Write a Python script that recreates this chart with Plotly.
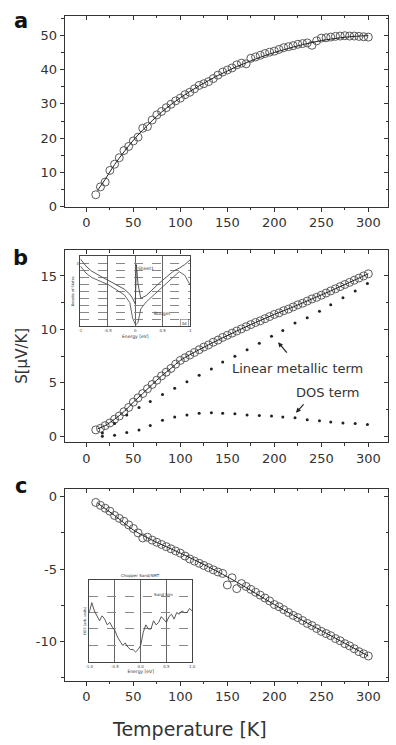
import plotly.graph_objects as go

# ---------------- data ----------------
T = [10, 15, 20, 25, 30, 35, 40, 45, 50, 55, 60, 65, 70, 75, 80, 85, 90, 95, 100,
     105, 110, 115, 120, 125, 130, 135, 140, 145, 150, 155, 160, 165, 170, 175, 180,
     185, 190, 195, 200, 205, 210, 215, 220, 225, 230, 235, 240, 245, 250, 255, 260,
     265, 270, 275, 280, 285, 290, 295, 300]

S_a = [3.5, 5.8, 7.2, 10.6, 12.4, 14.3, 16.4, 17.6, 19.2, 20.3, 22.9, 23.4, 25.3, 26.8,
       27.8, 28.9, 29.9, 30.9, 31.7, 32.7, 33.4, 34.4, 35.4, 35.9, 36.5, 37.4, 38.4,
       39.3, 39.9, 40.5, 41.4, 41.9, 41.7, 43.3, 43.7, 44.2, 44.7, 45.1, 45.4, 45.9,
       46.4, 46.7, 47.0, 47.4, 47.6, 47.8, 47.1, 48.4, 49.2, 49.3, 49.5, 49.7, 49.8,
       49.9, 49.8, 49.8, 49.7, 49.6, 49.5]
fitT_a = [12, 20, 30, 40, 50, 60, 70, 80, 90, 100, 110, 120, 130, 140, 150, 160, 170,
          180, 190, 200, 210, 220, 230, 240, 250, 260, 270, 280, 290, 300]
fitS_a = [4.8, 8.0, 12.3, 16.0, 19.4, 22.4, 25.1, 27.6, 29.8, 31.8, 33.6, 35.3, 36.8,
          38.3, 39.6, 40.9, 42.0, 43.1, 44.1, 45.0, 45.8, 46.6, 47.3, 47.9, 48.5, 48.9,
          49.3, 49.6, 49.8, 49.9]

S_b = [0.6, 0.75, 1.0, 1.25, 1.6, 1.9, 2.3, 2.7, 3.2, 3.6, 4.0, 4.45, 4.85, 5.25, 5.65,
       6.0, 6.35, 6.75, 7.1, 7.35, 7.6, 7.85, 8.1, 8.35, 8.55, 8.8, 9.0, 9.25, 9.45,
       9.65, 9.85, 10.05, 10.25, 10.45, 10.65, 10.8, 11.0, 11.2, 11.4, 11.55, 11.75,
       11.9, 12.1, 12.3, 12.45, 12.65, 12.85, 13.0, 13.2, 13.4, 13.6, 13.8, 14.0, 14.2,
       14.4, 14.6, 14.8, 15.0, 15.2]
fitT_b = [12, 20, 30, 40, 50, 60, 70, 80, 90, 100, 120, 140, 160, 180, 200, 220, 240,
          260, 280, 300]
fitS_b = [0.7, 1.0, 1.6, 2.3, 3.2, 4.0, 4.85, 5.65, 6.35, 7.1, 8.1, 9.0, 9.85, 10.65,
          11.4, 12.1, 12.85, 13.6, 14.4, 15.2]

T_terms = [17, 30, 43, 56, 68, 81, 94, 107, 120, 133, 145, 158, 171, 184, 197, 209,
           222, 235, 248, 260, 273, 286, 299]
linear_term = [0.3, 1.2, 2.0, 2.7, 3.25, 3.9, 4.5, 5.1, 5.7, 6.3, 6.95, 7.5, 8.1, 8.7,
               9.35, 9.9, 10.6, 11.1, 11.7, 12.3, 12.95, 13.6, 14.3]
dos_term = [0.0, 0.1, 0.35, 0.6, 1.0, 1.5, 1.8, 2.0, 2.15, 2.2, 2.15, 2.1, 2.0, 1.95,
            1.9, 1.8, 1.73, 1.55, 1.45, 1.35, 1.25, 1.2, 1.1]

S_c = [-0.4, -0.6, -0.8, -1.0, -1.3, -1.5, -1.7, -1.95, -2.2, -2.5, -2.85, -2.8, -3.0,
       -3.15, -3.3, -3.45, -3.6, -3.75, -3.9, -4.1, -4.3, -4.45, -4.6, -4.75, -4.9,
       -5.05, -5.2, -5.3, -6.1, -5.6, -6.35, -6.0, -6.2, -6.4, -6.6, -6.8, -7.0, -7.2,
       -7.45, -7.6, -7.8, -8.0, -8.2, -8.35, -8.55, -8.75, -8.9, -9.1, -9.3, -9.45,
       -9.6, -9.8, -9.95, -10.15, -10.3, -10.5, -10.7, -10.85, -11.0]
fitT_c = [12, 30, 50, 70, 100, 130, 160, 200, 240, 270, 300]
fitS_c = [-0.45, -1.3, -2.3, -3.0, -3.9, -4.85, -5.9, -7.45, -8.9, -9.95, -11.0]

x_ticks = [0, 50, 100, 150, 200, 250, 300]
ya_ticks = [0, 10, 20, 30, 40, 50]
yb_ticks = [0, 5, 10, 15]
yc_ticks = [0, -5, -10]
yc_ticktext = ["0", "-5", "-10"]

# inset b (density of states)
Eb = [-1.0, -0.9, -0.8, -0.7, -0.6, -0.5, -0.4, -0.3, -0.2, -0.1, -0.05, 0.0, 0.02,
      0.05, 0.1, 0.2, 0.3, 0.4, 0.5, 0.6, 0.7, 0.8, 0.9, 1.0]
dos_upper = [9.6, 8.6, 7.9, 7.4, 7.0, 6.6, 6.2, 5.8, 5.3, 4.6, 4.0, 3.2, 8.8, 6.0, 4.0,
             4.4, 5.2, 5.9, 6.6, 7.3, 7.9, 8.3, 8.8, 9.5]
dos_lower = [8.6, 7.6, 7.0, 6.6, 6.3, 6.0, 5.5, 5.0, 4.5, 3.4, 1.2, 0.3, 0.3, 0.6, 2.5,
             3.5, 4.2, 4.9, 5.7, 6.4, 7.1, 7.8, 7.3, 5.9]

# inset c
Ec = [-1.0, -0.95, -0.9, -0.85, -0.8, -0.75, -0.7, -0.65, -0.6, -0.55, -0.5, -0.45,
      -0.4, -0.35, -0.3, -0.25, -0.2, -0.15, -0.1, -0.05, 0.0, 0.05, 0.1, 0.15, 0.2,
      0.25, 0.3, 0.35, 0.4, 0.45, 0.5, 0.55, 0.6, 0.65, 0.7, 0.75, 0.8, 0.85, 0.9,
      0.95, 1.0]
dos_c = [0.6, 0.72, 0.62, 0.55, 0.5, 0.56, 0.52, 0.45, 0.48, 0.42, 0.38, 0.3, 0.25,
         0.2, 0.23, 0.18, 0.15, 0.15, 0.12, 0.15, 0.2, 0.36, 0.45, 0.4, 0.4, 0.5,
         0.45, 0.48, 0.55, 0.52, 0.48, 0.55, 0.58, 0.52, 0.6, 0.58, 0.62, 0.6, 0.6,
         0.65, 0.62]

# ---------------- figure ----------------
W, H = 396, 745
FONT = "DejaVu Sans"
INK = "#333333"


def px_x(a, b):
    return [a / W, b / W]


def px_y(top, bottom):
    return [1 - bottom / H, 1 - top / H]


main_x = px_x(62, 392)
dom_y = {1: px_y(16, 209), 2: px_y(253, 447), 3: px_y(494, 688)}
x_range = [-23, 321]
y_ranges = {1: [0, 55.7], 2: [-0.55, 17.4], 3: [-12.7, 0.55]}

fig = go.Figure()

circle = dict(symbol="circle-open", size=8, color="#5a5a5a", line=dict(width=1))
fitline = dict(color="#222222", width=1)

# panel a
fig.add_trace(go.Scatter(x=T, y=S_a, mode="markers", marker=circle, xaxis="x", yaxis="y"))
fig.add_trace(go.Scatter(x=fitT_a, y=fitS_a, mode="lines", line=dict(shape="spline", **fitline),
                         xaxis="x", yaxis="y"))
# panel b
fig.add_trace(go.Scatter(x=T, y=S_b, mode="markers", marker=circle, xaxis="x2", yaxis="y2"))
fig.add_trace(go.Scatter(x=fitT_b, y=fitS_b, mode="lines", line=dict(shape="spline", **fitline),
                         xaxis="x2", yaxis="y2"))
fig.add_trace(go.Scatter(x=T_terms, y=linear_term, mode="markers",
                         marker=dict(symbol="circle", size=3, color="#222222"),
                         xaxis="x2", yaxis="y2"))
fig.add_trace(go.Scatter(x=T_terms, y=dos_term, mode="markers",
                         marker=dict(symbol="circle", size=3, color="#222222"),
                         xaxis="x2", yaxis="y2"))
# panel c
fig.add_trace(go.Scatter(x=T, y=S_c, mode="markers", marker=circle, xaxis="x3", yaxis="y3"))
fig.add_trace(go.Scatter(x=fitT_c, y=fitS_c, mode="lines", line=dict(shape="spline", **fitline),
                         xaxis="x3", yaxis="y3"))

# empty traces to make mirror axes (inward ticks on top / right)
for i in (1, 2, 3):
    xs = "" if i == 1 else str(i)
    fig.add_trace(go.Scatter(x=[], y=[], xaxis="x%d" % (i + 3), yaxis="y" + xs, hoverinfo="skip"))
    fig.add_trace(go.Scatter(x=[], y=[], xaxis="x" + xs, yaxis="y%d" % (i + 3), hoverinfo="skip"))

# insets
fig.add_trace(go.Scatter(x=Eb, y=dos_upper, mode="lines", line=dict(color="#444", width=0.9),
                         xaxis="x7", yaxis="y7"))
fig.add_trace(go.Scatter(x=Eb, y=dos_lower, mode="lines", line=dict(color="#555", width=0.9),
                         xaxis="x7", yaxis="y7"))
fig.add_trace(go.Scatter(x=Ec, y=dos_c, mode="lines", line=dict(color="#444", width=0.9),
                         xaxis="x8", yaxis="y8"))

tickfont = dict(family=FONT, size=13, color=INK)
layout = dict(
    width=W, height=H, margin=dict(l=0, r=0, t=0, b=0),
    paper_bgcolor="white", plot_bgcolor="white", showlegend=False,
    font=dict(family=FONT, color=INK),
)

for i in (1, 2, 3):
    xs = "" if i == 1 else str(i)
    ys = xs
    layout["xaxis" + xs] = dict(
        domain=main_x, anchor="y" + ys, range=x_range, tickmode="linear", tick0=0, dtick=50,
        ticks="outside", ticklen=4, tickwidth=1, tickcolor=INK,
        minor=dict(tick0=0, dtick=25, ticks="outside", ticklen=2.5, tickcolor=INK),
        showline=True, mirror=True, linecolor=INK, linewidth=1.2,
        showgrid=False, zeroline=False, tickfont=tickfont,
    )
    ya = dict(
        domain=dom_y[i], anchor="x" + xs, range=y_ranges[i],
        ticks="outside", ticklen=4, tickwidth=1, tickcolor=INK,
        showline=True, mirror=True, linecolor=INK, linewidth=1.2,
        showgrid=False, zeroline=False, tickfont=tickfont,
    )
    if i == 1:
        ya.update(tickmode="array", tickvals=ya_ticks,
                  minor=dict(tick0=0, dtick=5, ticks="outside", ticklen=2.5, tickcolor=INK))
    elif i == 2:
        ya.update(tickmode="array", tickvals=yb_ticks,
                  minor=dict(tick0=0, dtick=2.5, ticks="outside", ticklen=2.5, tickcolor=INK))
    else:
        ya.update(tickmode="array", tickvals=yc_ticks, ticktext=yc_ticktext,
                  minor=dict(tick0=0, dtick=2.5, ticks="outside", ticklen=2.5, tickcolor=INK))
    layout["yaxis" + ys] = ya

    # mirror axes
    layout["xaxis%d" % (i + 3)] = dict(
        overlaying="x" + xs, side="top", anchor="y" + ys, range=x_range,
        tickmode="linear", tick0=0, dtick=50, ticks="inside", ticklen=4, tickcolor=INK,
        minor=dict(tick0=0, dtick=25, ticks="inside", ticklen=2.5, tickcolor=INK),
        showticklabels=False, showline=False, showgrid=False, zeroline=False,
    )
    dt_major = {1: 10, 2: 5, 3: 5}[i]
    dt_minor = {1: 5, 2: 2.5, 3: 2.5}[i]
    layout["yaxis%d" % (i + 3)] = dict(
        overlaying="y" + ys, side="right", anchor="x" + xs, range=y_ranges[i],
        tickmode="linear", tick0=0, dtick=dt_major, ticks="inside", ticklen=4, tickcolor=INK,
        minor=dict(tick0=0, dtick=dt_minor, ticks="inside", ticklen=2.5, tickcolor=INK),
        showticklabels=False, showline=False, showgrid=False, zeroline=False,
    )

tiny = dict(family=FONT, size=4, color="#444")
layout["xaxis7"] = dict(
    domain=px_x(78, 190), anchor="y7", range=[-1, 1], tickmode="array",
    tickvals=[-1, -0.5, 0, 0.5, 1], ticktext=["-1", "-0.5", "0", "0.5", "1"],
    showgrid=True, gridcolor="#666", gridwidth=0.8, zeroline=False,
    showline=True, mirror=True, linecolor="#444", linewidth=0.9, ticks="",
    tickfont=tiny, title=dict(text="Energy [eV]", font=dict(family=FONT, size=4.5), standoff=2),
)
layout["yaxis7"] = dict(
    domain=px_y(259, 330), anchor="x7", range=[0, 10], tickmode="array",
    tickvals=[0, 1, 2, 3, 4, 5, 6, 7, 8, 9, 10], ticktext=[""] * 9 + ["3", ""],
    showgrid=True, gridcolor="#888", gridwidth=0.7, griddash="dash", zeroline=False,
    showline=True, mirror=True, linecolor="#444", linewidth=0.9, ticks="",
    tickfont=tiny, title=dict(text="Density of States", font=dict(family=FONT, size=3.5), standoff=1),
)
layout["xaxis8"] = dict(
    domain=px_x(87, 192), anchor="y8", range=[-1, 1], tickmode="array",
    tickvals=[-1, -0.5, 0, 0.5, 1], ticktext=["-1.0", "-0.5", "0.0", "0.5", "1.0"],
    showgrid=True, gridcolor="#666", gridwidth=0.8, zeroline=False,
    showline=True, mirror=True, linecolor="#444", linewidth=0.9, ticks="",
    tickfont=tiny, title=dict(text="Energy [eV]", font=dict(family=FONT, size=4.5), standoff=2),
)
layout["yaxis8"] = dict(
    domain=px_y(586, 669), anchor="x8", range=[0, 1], tickmode="array",
    tickvals=[0, 0.2, 0.4, 0.6, 0.8, 1.0], ticktext=[""] * 6,
    showgrid=True, gridcolor="#888", gridwidth=0.7, griddash="dash", zeroline=False,
    showline=True, mirror=True, linecolor="#444", linewidth=0.9, ticks="",
    tickfont=tiny, title=dict(text="DOS [arb. units]", font=dict(family=FONT, size=3.5), standoff=1),
)


def ptxt(text, xp, yp, size, angle=0, color=INK):
    return dict(text=text, x=xp / W, y=1 - yp / H, xref="paper", yref="paper",
                xanchor="center", yanchor="middle", showarrow=False, textangle=angle,
                font=dict(family=FONT, size=size, color=color))


annotations = [
    ptxt("<b>a</b>", 17, 21, 21, color="#111"),
    ptxt("<b>b</b>", 17, 261, 21, color="#111"),
    ptxt("<b>c</b>", 17, 491, 21, color="#111"),
    ptxt("S[μV/K]", 18, 360, 15, angle=-90),
    ptxt("Temperature [K]", 189, 737, 19),
    # panel b labels
    ptxt("Linear metallic term", 300, 373, 13),
    dict(text="", x=204, y=8.8, xref="x2", yref="y2", showarrow=True, ax=10, ay=12,
         arrowhead=2, arrowsize=0.8, arrowwidth=1.2, arrowcolor="#222"),
    ptxt("DOS term", 331, 397, 13),
    dict(text="", x=223, y=2.2, xref="x2", yref="y2", showarrow=True, ax=9, ay=-10,
         arrowhead=2, arrowsize=0.8, arrowwidth=1.2, arrowcolor="#222"),
    # inset b labels
    dict(text="Sheet1", x=0.02, y=8.2, xref="x7", yref="y7", xanchor="left", showarrow=False,
         font=dict(family=FONT, size=4.5, color="#333")),
    dict(text="Budget", x=0.3, y=1.8, xref="x7", yref="y7", xanchor="left", showarrow=False,
         font=dict(family=FONT, size=4.5, color="#333")),
    dict(text="3d", x=0.9, y=0.5, xref="x7", yref="y7", showarrow=False,
         font=dict(family=FONT, size=4, color="#333"), bordercolor="#555", borderwidth=0.5),
    # inset c labels
    dict(text="Chopper Sand/SMT", x=0, y=1.0, xref="x8", yref="y8", yanchor="bottom",
         showarrow=False, font=dict(family=FONT, size=4, color="#333")),
    dict(text="Sand Sim", x=0.45, y=0.82, xref="x8", yref="y8", showarrow=False,
         font=dict(family=FONT, size=4, color="#333")),
]
layout["annotations"] = annotations

fig.update_layout(**layout)
fig.write_html("out.html")
